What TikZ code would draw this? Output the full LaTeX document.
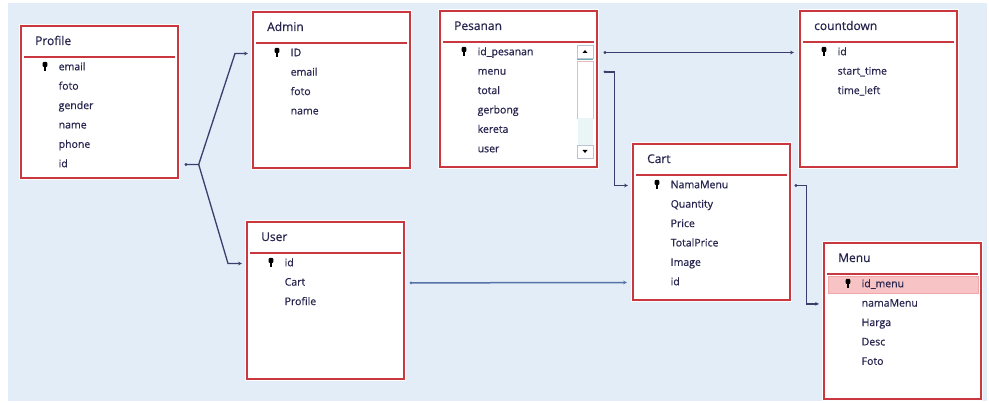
\documentclass[tikz,border=0pt]{standalone}
\usepackage{fontspec}
\setmainfont{Open Sans}
\newfontfamily\erdfont{Open Sans}[FakeBold=0.6]
\usetikzlibrary{arrows.meta,calc}
\definecolor{bg}{HTML}{E2EDF8}
\definecolor{frame}{HTML}{C9373F}
\definecolor{ink}{HTML}{27254F}
\definecolor{link}{HTML}{3B3D6B}
\definecolor{linkb}{HTML}{5673A6}
\definecolor{hl}{HTML}{F8C3C5}
\definecolor{sbline}{HTML}{B9C4D2}

% one table: #1 name, #2 x, #3 y, #4 height, #5 title, #6 extra drawing under the fields, #7 fields
\newcommand\erdtable[7]{%
  \node[tbl, minimum height=#4] (#1) at (#2,#3) {};
  \node[ttl] (#1-title) at ($(#1.north west)+(15pt,-17pt)$) {#5};
  \draw[sep] ($(#1.north west)+(4pt,-32pt)$) -- ($(#1.north east)+(-4pt,-32pt)$);
  #6
  \foreach \f [count=\i] in {#7} {
    \node[fld] (#1-f\i) at ($(#1.north west)+(38.5pt,{-42.5pt-19.4pt*(\i-1)})$) {\f};
  }
  \pic at ($(#1.north west)+(25pt,-42.5pt)$) {pkey};
}

\begin{document}
\begin{tikzpicture}[x=1pt,y=-1pt,
  tbl/.style={draw=frame, line width=1.7pt, fill=white, anchor=north west,
    inner sep=0, minimum width=157pt,
    preaction={draw=white, line width=4pt, opacity=.85}},
  ttl/.style={anchor=west, inner sep=0, text height=9pt, text depth=3pt,
    font=\erdfont\fontsize{12}{12}\selectfont, text=ink},
  fld/.style={anchor=west, inner sep=0, text height=8pt, text depth=2.5pt,
    font=\erdfont\fontsize{10.5}{11}\selectfont, text=ink},
  sep/.style={draw=frame, line width=1.4pt},
  rel/.style={draw=link, line width=1.3pt, {Circle[length=2.6pt]}-{Stealth[length=3.8pt,width=3.6pt]}},
  relb/.style={draw=link, line width=1.3pt, -{Stealth[length=3.8pt,width=3.6pt]}},
  pkey/.pic={
    \fill[black, rounded corners=1pt] (-2.3,-5.5) rectangle (2.3,-0.5);
    \fill[black] (-1.3,-1) rectangle (1.3,4);
  },
]
\useasboundingbox (0,0) rectangle (989,403);
\fill[bg] (8,3) rectangle (987,401);

% tables
\erdtable{profile}{20}{25}{152pt}{Profile}{}{email,foto,gender,name,phone,id}
\erdtable{admin}{252}{11}{156pt}{Admin}{}{ID,email,foto,name}
\erdtable{pesanan}{439}{10}{156pt}{Pesanan}{}{id\_pesanan,menu,total,gerbong,kereta,user}
\erdtable{countdown}{799}{10}{156pt}{countdown}{}{id,start\_time,time\_left}
\erdtable{cart}{632}{143}{156pt}{Cart}{}{NamaMenu,Quantity,Price,TotalPrice,Image,id}
\erdtable{menu}{823}{242}{156pt}{Menu}{%
  \fill[hl, draw=hl!80!frame, line width=.4pt] ($(menu.north west)+(5pt,-34pt)$) rectangle ($(menu.north east)+(-4pt,-51pt)$);%
}{id\_menu,namaMenu,Harga,Desc,Foto}
\erdtable{user}{246}{221}{157pt}{User}{}{id,Cart,Profile}

% scroll bar of Pesanan
\draw[sbline, fill=white, line width=.6pt] (577,45) rectangle (593,58);
\fill[black] (582.5,53) -- (587.5,53) -- (585,50) -- cycle;
\draw[teal!60, line width=1pt] (577,60) -- (593,60);
\draw[frame!35, fill=white, line width=.6pt] (577,61) rectangle (593,118);
\fill[green!3!bg!60!white] (577.5,118.5) rectangle (592.5,145);
\draw[sbline, fill=white, line width=.6pt] (577,145) rectangle (593,158);
\fill[black] (582.5,150) -- (587.5,150) -- (585,153) -- cycle;

% connection points
\coordinate (p-out) at ($(profile.east |- profile-f6)+(6pt,0)$);
\coordinate (p-fork) at ($(p-out)+(14pt,0)$);
\coordinate (a-in) at ($(admin.west |- admin-f1)+(-4pt,0)$);
\coordinate (u-in) at ($(user.west |- user-f1)+(-4pt,0)$);
\coordinate (ps-out1) at ($(pesanan.east |- pesanan-f1)+(6pt,0)$);
\coordinate (cd-in) at ($(countdown.west |- countdown-f1)+(-5pt,0)$);
\coordinate (ps-out2) at ($(pesanan.east |- pesanan-f2)+(6pt,0)$);
\coordinate (c-in1) at ($(cart.west |- cart-f1)+(-4pt,0)$);
\coordinate (c-out) at ($(cart.east |- cart-f1)+(4pt,0)$);
\coordinate (m-in) at ($(menu.west |- menu-f2)+(-4pt,0)$);
\coordinate (u-out) at ($(user.east |- user-f2)+(5pt,0)$);
\coordinate (c-in6) at ($(cart.west |- cart-f6)+(-5pt,0)$);

% relationships
\draw[rel] (p-out) -- (p-fork) -- ($(a-in)+(-13pt,0)$) -- (a-in);
\draw[relb] (p-fork) -- ($(u-in)+(-14pt,0)$) -- (u-in);
\draw[rel] (ps-out1) -- (cd-in);
\draw[rel] (ps-out2) -- ++(11pt,0) |- (c-in1);
\draw[rel] (c-out) -- ++(12pt,0) |- (m-in);
\draw[rel, draw=linkb, line width=1.5pt] (u-out) -- (c-in6);
\end{tikzpicture}
\end{document}
